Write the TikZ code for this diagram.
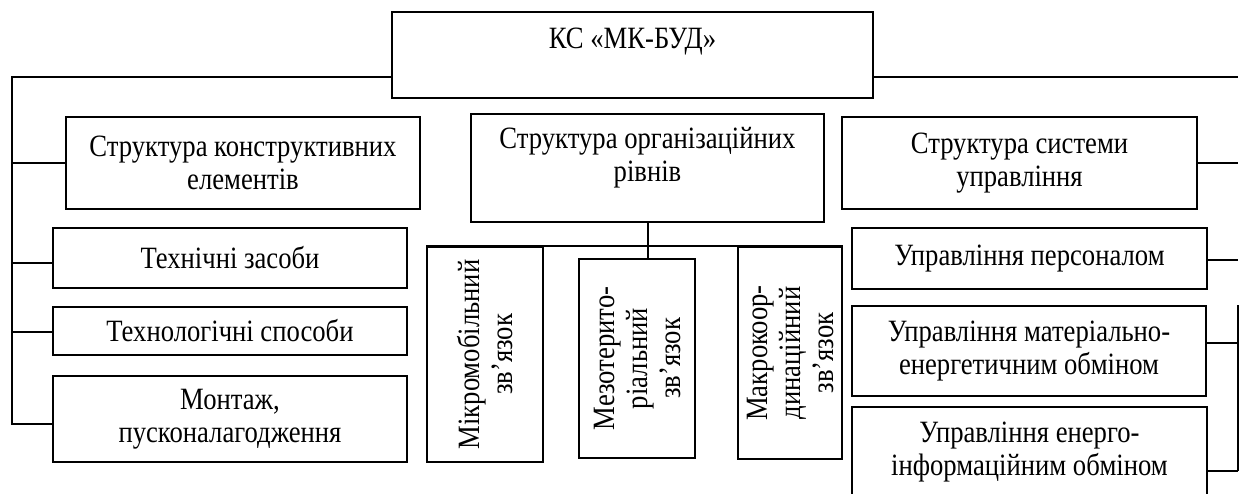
\documentclass[tikz,border=0pt]{standalone}
\usepackage{fontspec}
\setmainfont{Liberation Serif}[FakeStretch=0.86]

\begin{document}
\begin{tikzpicture}[x=1pt, y=-1pt]
    % ===================================
    % Налаштування
    % ===================================
    \def\lw{2pt}   % товщина ліній
    \def\fs{31}    % розмір шрифту

    \tikzset{
        blok/.style={draw, line width=\lw, align=center, inner sep=2pt,
            font=\fontsize{\fs}{33}\selectfont},
        napys/.style={align=center, inner sep=0pt,
            font=\fontsize{\fs}{33}\selectfont},
        lin/.style={line width=\lw}
    }
    % ===================================
    \useasboundingbox (0,0) rectangle (1239,493);
    \clip (0,0) rectangle (1239,493);

    % 1. Верхній блок
    \node[blok, minimum width=481, minimum height=86] (ks) at (632.5,55) {};
    \node[napys] (kst) at (632.5,42) {КС «МК-БУД»};

    % 2. Блоки другого рівня
    \node[blok, minimum width=354, minimum height=92] (sk) at (243,163)
        {Структура конструктивних\\елементів};
    \node[blok, minimum width=353, minimum height=108] (so) at (647.5,168) {};
    \node[napys] (sot) at (647.5,158) {Структура організаційних\\рівнів};
    \node[blok, minimum width=355, minimum height=92] (su) at (1019.5,163)
        {Структура системи\\управління};

    % 3. Ліва колонка
    \node[blok, minimum width=354, minimum height=60] (tz) at (230,258) {Технічні засоби};
    \node[blok, minimum width=354, minimum height=48] (ts) at (230,331) {Технологічні способи};
    \node[blok, minimum width=354, minimum height=86] (mp) at (230,419)
        {Монтаж,\\пусконалагодження};

    % 4. Середня колонка (текст повернуто)
    \node[blok, rotate=90, minimum width=215, minimum height=116] (mikro) at (485,354.5)
        {Мікромобільний\\зв’язок};
    \node[blok, rotate=90, minimum width=199, minimum height=116] (mezo) at (637,358.5)
        {Мезотерито-\\ріальний\\зв’язок};
    \node[blok, rotate=90, minimum width=212, minimum height=104] (makro) at (790,353)
        {Макрокоор-\\динаційний\\зв’язок};

    % 5. Права колонка
    \node[blok, minimum width=355, minimum height=61] (up) at (1029.5,258.5)
        {Управління персоналом};
    \node[blok, minimum width=354, minimum height=90] (um) at (1029,351)
        {Управління матеріально-\\енергетичним обміном};
    \node[blok, minimum width=355, minimum height=90] (ue) at (1029.5,452)
        {Управління енерго-\\інформаційним обміном};

    % 6. З'єднання
    \coordinate (lt) at (12,77);
    \coordinate (rt) at (1238,77);

    % точки приєднання
    \foreach \n/\d in {sk/0, tz/-5, ts/-1, mp/-5} {
        \coordinate (\n-p) at ([yshift=\d pt]\n.west);
    }
    \foreach \n/\d in {su/0, up/-1, um/8, ue/-19} {
        \coordinate (\n-p) at ([yshift=\d pt]\n.east);
    }

    % ліва шина
    \draw[lin] (ks.west |- lt) -- (lt) |- (mp-p);
    \foreach \n in {sk, tz, ts} {
        \draw[lin] (lt |- \n-p) -- (\n-p);
    }

    % права шина
    \draw[lin] (ks.east |- rt) -- (rt);
    \foreach \n in {su, up, um, ue} {
        \draw[lin] (\n-p) -- (rt |- \n-p);
    }
    \draw[lin] (rt |- um.north) -- (rt |- ue-p);

    % середина
    \draw[lin] (so.south) -- (so.south |- mezo.east);
    \draw[lin] (mikro.north east) -- (makro.south east);

\end{tikzpicture}
\end{document}
